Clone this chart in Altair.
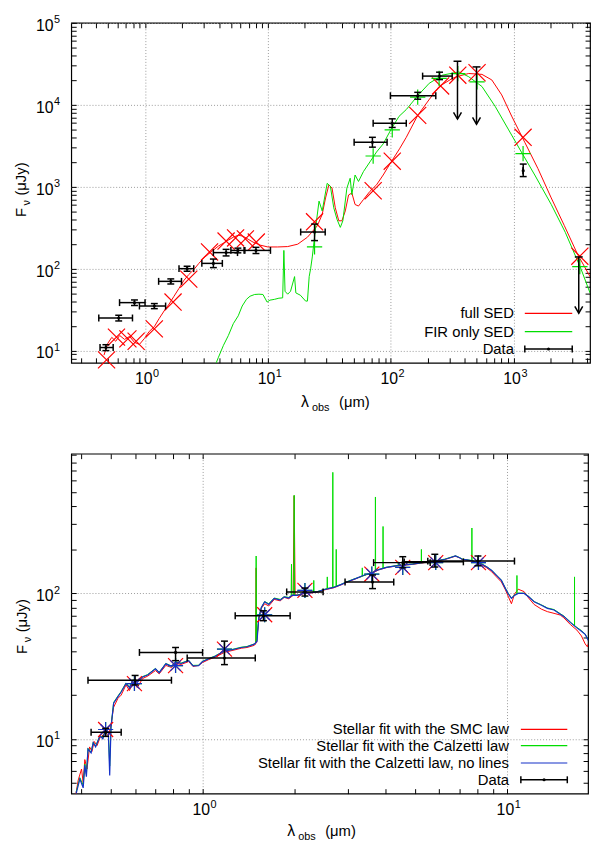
import altair as alt
import pandas as pd

RED = "#ff0000"
GREEN = "#00dd00"
BLUE = "#1530c8"
BLACK = "#000000"
GRID = "#9a9a9a"
FONT = "Liberation Sans"

# ---------------------------------------------------------------
# Top panel: full SED fit vs FIR-only fit
# ---------------------------------------------------------------
SED_X = [0.463, 0.498, 0.536, 0.577, 0.621, 0.681, 0.748, 0.82, 0.90, 0.99,
         1.08, 1.19, 1.30, 1.43, 1.57, 1.72, 1.89, 2.07, 2.27, 2.49,
         2.73, 3.0, 3.29, 3.61, 3.96, 4.35, 4.77, 5.23, 5.74, 6.29,
         6.9, 7.57, 8.63, 10.0, 12.0, 14.5, 17.5, 21.0, 25.3, 27.7,
         29.5, 31.4, 33.3, 35.4, 37.8, 40.1, 42.7, 45.4, 48.3, 51.3,
         54.7, 60, 67.8, 76.7, 86.9, 101, 118, 134, 166, 205,
         248, 318, 359, 432, 554, 666, 802, 966, 1235, 1580,
         2030, 2590, 3310, 4200]
SED_Y = [8.8, 12.3, 14.5, 13.0, 15.3, 13.7, 14.9, 12.6, 11.9, 14.1,
         17.1, 19.6, 24.5, 30.5, 37, 46, 57.5, 71.8, 84.7, 97,
         115, 135, 151, 169, 189, 205, 223, 242, 256, 249,
         229, 211, 194, 184, 184, 186, 199, 242, 334, 460,
         730, 1055, 962, 553, 384, 384, 506, 793, 838, 607,
         581, 697, 879, 1055, 1390, 2010, 2900, 4010, 7430, 11500,
         16700, 21000, 22400, 24100, 23500, 20100, 13200, 7280, 3490, 1670,
         730, 337, 152, 80]

FIR_X = [3.68, 3.96, 4.35, 4.77, 5.23, 5.74, 6.18, 6.69, 7.16, 7.81,
         8.46, 9.12, 9.86, 10.4, 11.3, 12.3, 13.2, 13.5, 13.8, 14.5,
         15.3, 16.5, 16.9, 18.4, 20.3, 21.0, 21.7, 22.3, 23.0, 24.5,
         26.1, 27.7, 30.4, 32.3, 34.4, 36.6, 38.9, 40.8, 44, 46.8,
         48.3, 51.3, 54.7, 60, 67.8, 76.7, 86.9, 101, 117, 134,
         166, 206, 264, 359, 432, 554, 708, 906, 1160, 1490,
         2030, 2640, 3530, 4200]
FIR_Y = [6.3, 8.3, 11.6, 15.3, 21.3, 26.6, 35, 42.2, 46.1, 48.4,
         48.8, 48.4, 39.1, 41.3, 42.2, 43.6, 44, 167, 53, 48.8,
         53, 80, 50.6, 47.4, 40.2, 40.2, 80, 100, 139, 319,
         667, 506, 1100, 1010, 553, 398, 319, 384, 962, 1270,
         800, 1390, 1160, 1530, 2010, 2650, 3330, 5050, 7230, 8750,
         12900, 18300, 23000, 25200, 22000, 16700, 9600, 5050, 2650, 1390,
         607, 278, 101, 50.6]

# model photometry
SED_MOD_X = [0.486, 0.585, 0.725, 0.846, 1.19, 1.69, 2.27, 3.35, 4.57, 5.46, 6.56,
             8.05, 24, 72, 103, 166, 255, 352, 505, 1197, 3470]
SED_MOD_Y = [7.7, 14.6, 13.9, 13.0, 18.4, 39.1, 74.5, 160, 217, 237, 231,
             211, 373, 893, 2050, 7430, 17000, 23000, 24600, 4010, 142]
FIR_MOD_X = [24, 72, 103, 166, 248, 352, 505, 1197, 3470]
FIR_MOD_Y = [184, 2370, 4940, 12400, 21000, 24000, 19000, 2530, 106]

# observed photometry
DATA_X = [0.48, 0.61, 0.82, 1.19, 1.62, 2.2, 3.6, 4.57, 5.7, 8.0, 24, 71, 103, 166, 250, 1200]
DATA_XLO = [0.43, 0.42, 0.62, 0.9, 1.29, 1.89, 2.9, 3.6, 5.0, 6.4, 18.5, 50.4, 72, 99.5, 182, 1200]
DATA_XHI = [0.55, 0.79, 1.0, 1.47, 1.98, 2.49, 4.26, 5.66, 6.5, 10.5, 29.3, 93.5, 134, 233, 317, 1200]
DATA_Y = [10.9, 25, 38.5, 35, 70, 100, 116, 157, 167, 167, 280, 3490, 5950, 12900, 22400, 1570]
DATA_YLO = [10.0, 23, 35.5, 32.5, 65, 93, 103, 143, 156, 153, 220, 3040, 5290, 11700, 20300, 1330]
DATA_YHI = [11.8, 27, 41.5, 37.5, 75, 107, 131, 172, 178, 182, 350, 4010, 6740, 14200, 25000, 1890]

# upper limits
UL_X = [350, 500, 3400]
UL_TOP = [34000, 29000, 139]
UL_END = [6700, 5800, 28.6]

# ---------------------------------------------------------------
# Bottom panel: stellar fits
# ---------------------------------------------------------------
SMC_X = [0.382, 0.39, 0.40, 0.405, 0.41, 0.417, 0.425, 0.433, 0.44, 0.45,
         0.46, 0.47, 0.48, 0.49, 0.50, 0.51, 0.527, 0.54, 0.56, 0.575,
         0.59, 0.61, 0.635, 0.66, 0.70, 0.72, 0.757, 0.79, 0.815, 0.85,
         0.90, 0.93, 0.97, 1.0, 1.045, 1.1, 1.185, 1.25, 1.34, 1.40,
         1.48, 1.495, 1.50, 1.505, 1.53, 1.56, 1.6, 1.65, 1.72, 1.8,
         1.855, 1.92, 1.985, 2.0, 2.015, 2.15, 2.25, 2.38, 2.5, 2.7,
         2.85, 2.98, 3.2, 3.37, 3.64, 3.8, 4.02, 4.32, 4.6, 4.9,
         5.2, 5.55, 5.9, 6.27, 6.5, 6.78, 7.0, 7.13, 7.4, 7.68,
         8.0, 8.29, 8.6, 8.92, 9.25, 9.6, 9.9, 10.1, 10.36, 10.6,
         10.9, 11.4, 11.8, 12.3, 13.0, 13.6, 14.3, 15.0, 15.4, 16.2,
         17.0, 17.6, 18.1, 18.4, 18.6]
SMC_Y = [4.0, 5.2, 6.2, 5.0, 7.2, 6.2, 8.8, 8.2, 9.6, 9.0,
         10.2, 10.6, 11.2, 10.4, 12.5, 16.5, 19, 20, 23.5, 21.5,
         24.5, 22.5, 26, 27, 29.5, 28, 32, 31, 33, 32.5,
         34, 31.5, 32, 33.5, 35, 36.5, 39.5, 40.5, 42, 42.5,
         44, 45, 150, 46, 66, 79, 85, 82, 91, 89,
         94, 92, 97, 470, 97, 99.5, 100.5, 102, 105.5, 109.5,
         114.5, 119.5, 126.5, 132.5, 139.5, 145.5, 150.5, 154.5, 156.5, 158.5,
         161.5, 164.5, 167.5, 171.5, 175.5, 180.5, 175.5, 171.5, 169.5, 167,
         162, 157, 150, 141, 130, 120, 106, 96, 85, 99,
         107, 103, 93, 84, 78, 75, 73, 71, 68, 61,
         56, 51, 45, 43, 46]

CAL_X = [0.384, 0.395, 0.405, 0.41, 0.415, 0.42, 0.43, 0.437, 0.445, 0.46,
         0.47, 0.48, 0.49, 0.495, 0.50, 0.51, 0.527, 0.54, 0.56, 0.575,
         0.59, 0.61, 0.635, 0.66, 0.70, 0.72, 0.757, 0.79, 0.815, 0.85,
         0.90, 0.93, 0.97, 1.0, 1.045, 1.1, 1.185, 1.25, 1.34, 1.40,
         1.48, 1.495, 1.50, 1.505, 1.53, 1.56, 1.6, 1.65, 1.72, 1.8,
         1.855, 1.92, 1.955, 1.96, 1.965, 1.995, 2.0, 2.006, 2.05, 2.15,
         2.25, 2.315, 2.32, 2.325, 2.38, 2.5, 2.565, 2.57, 2.575, 2.675,
         2.68, 2.685, 2.745, 2.75, 2.755, 2.85, 2.98, 3.2, 3.345, 3.35,
         3.355, 3.64, 3.695, 3.7, 3.705, 3.8, 3.915, 3.92, 3.925, 4.02,
         4.32, 4.395, 4.4, 4.405, 4.6, 4.9, 5.2, 5.235, 5.24, 5.245,
         5.55, 5.9, 6.27, 6.5, 6.78, 7.0, 7.13, 7.4, 7.675, 7.68,
         7.685, 8.0, 8.29, 8.6, 8.92, 9.25, 9.6, 9.9, 10.1, 10.36,
         10.6, 10.795, 10.8, 10.805, 10.9, 11.4, 11.8, 12.3, 13.0, 13.6,
         14.3, 15.0, 15.4, 16.2, 16.695, 16.7, 16.705, 17.0, 17.6, 18.1,
         18.6]
CAL_Y = [4.3, 5.4, 4.8, 6.7, 5.7, 8.6, 8.1, 9.5, 8.9, 10.6,
         10.1, 11.7, 11.1, 6.5, 12.1, 17.8, 19.7, 21.2, 24.2, 22.7,
         25.5, 24.7, 26.8, 27.7, 30.5, 28.7, 33.0, 31.7, 33.9, 33.2,
         34.7, 32.0, 32.1, 34.2, 35.6, 37.2, 40.5, 41.2, 42.7, 43.2,
         45.0, 46, 181, 47, 68, 80, 88, 85, 93, 91,
         95, 94, 96, 159, 96.5, 97.5, 474, 97.5, 97.5, 100.5,
         101.5, 102, 123, 102.5, 103, 106.5, 108, 130, 108.5, 110,
         681, 110.5, 112, 201, 112.5, 115.5, 120.5, 127.5, 131, 150,
         131.5, 140.5, 143, 461, 143.5, 146.5, 149, 289, 149.5, 151.5,
         155.5, 156, 165, 156.5, 157.5, 159.5, 162, 162.5, 201, 162.5,
         165.5, 168.5, 172.5, 176.5, 181.5, 176.5, 172.5, 170.5, 168.5, 282,
         168, 163.5, 159.5, 152.5, 144.5, 133.5, 123.5, 108.5, 100.5, 93,
         97.5, 100, 133, 100, 100.5, 100.5, 95.5, 88, 83.5, 79.5,
         77.5, 72.5, 70, 63.5, 60, 130, 60, 58.5, 55.5, 52.5,
         47.5]

NOL_X = [0.384, 0.395, 0.405, 0.41, 0.415, 0.42, 0.43, 0.437, 0.445, 0.46,
         0.47, 0.48, 0.49, 0.495, 0.50, 0.51, 0.527, 0.54, 0.56, 0.575,
         0.59, 0.61, 0.635, 0.66, 0.70, 0.72, 0.757, 0.79, 0.815, 0.85,
         0.90, 0.93, 0.97, 1.0, 1.045, 1.1, 1.185, 1.25, 1.34, 1.40,
         1.48, 1.51, 1.53, 1.56, 1.6, 1.65, 1.72, 1.8, 1.855, 1.92,
         1.97, 2.05, 2.15, 2.25, 2.38, 2.5, 2.7, 2.85, 2.98, 3.2,
         3.37, 3.64, 3.8, 4.02, 4.32, 4.6, 4.9, 5.2, 5.55, 5.9,
         6.27, 6.5, 6.78, 7.0, 7.13, 7.4, 7.68, 8.0, 8.29, 8.6,
         8.92, 9.25, 9.6, 9.9, 10.1, 10.36, 10.6, 10.9, 11.4, 11.8,
         12.3, 13.0, 13.6, 14.3, 15.0, 15.4, 16.2, 17.0, 17.6, 18.1,
         18.6]
NOL_Y = [4.2, 5.3, 4.6, 6.6, 5.5, 8.5, 8.0, 9.4, 8.8, 10.5,
         10.0, 11.6, 11.0, 5.6, 12.0, 17.6, 19.5, 21, 24, 22.5,
         25.3, 24.5, 26.6, 27.5, 30.3, 28.5, 32.8, 31.5, 33.7, 33.0,
         34.5, 31.8, 31.9, 34.0, 35.4, 37, 40.3, 41, 42.5, 43,
         44.8, 47, 68, 80, 87.7, 84, 92.5, 90, 94.8, 93,
         97.4, 97, 100, 101, 102.5, 106, 110, 115, 120, 127,
         133, 140, 146, 151, 155, 157, 159, 162, 165, 168,
         172, 176, 181, 176, 172, 170, 168, 163, 159, 152,
         144, 133, 123, 108, 100, 92.5, 97, 100, 100, 95,
         87.7, 83, 79, 77, 72, 69.5, 63, 58, 55, 52.3,
         47]

STAR_MOD_X = [0.48, 0.597, 0.815, 1.18, 1.6, 2.17, 3.6, 4.55, 5.84, 8.07]
STAR_MOD_Y = [11.6, 24.0, 31.9, 41.4, 71.4, 105, 136, 151, 163, 163]

OPT_X = [0.48, 0.6, 0.815, 1.18, 1.585, 2.17, 3.62, 4.55, 5.8, 8.04]
OPT_XLO = [0.43, 0.42, 0.62, 0.89, 1.28, 1.89, 2.94, 3.65, 4.6, 5.5]
OPT_XHI = [0.54, 0.79, 1.0, 1.49, 1.94, 2.49, 4.25, 5.6, 7.2, 10.6]
OPT_Y = [11.1, 25.3, 39.3, 36, 70.3, 102.5, 119.8, 163, 165, 167]
OPT_YLO = [10.4, 23.5, 34.5, 32.4, 65, 96, 108, 150, 152, 155]
OPT_YHI = [11.8, 27.3, 42.5, 47, 76, 109, 134, 179, 186, 181]

# decade tick labels (10 with a raised exponent)
TOP_XLAB, TOP_XEXP = [1, 10, 100, 1000], ["0", "1", "2", "3"]
TOP_YLAB, TOP_YEXP = [10, 100, 1000, 10000, 100000], ["1", "2", "3", "4", "5"]
BOT_XLAB, BOT_XEXP = [1, 10], ["0", "1"]
BOT_YLAB, BOT_YEXP = [10, 100], ["1", "2"]

# axis ranges (both frames share the same left edge in the stacked layout)
TOP_XDOM, TOP_YDOM = [0.2506, 4200], [7.1, 1e5]
BOT_XDOM, BOT_YDOM = [0.370, 18.5], [4.2, 915]


def log_ticks(lo, hi, e0, e1):
    return [round(m * 10.0 ** e, 6) for e in range(e0, e1 + 1) for m in range(1, 10)
            if lo <= round(m * 10.0 ** e, 6) <= hi]


TOP_X_TICKS = log_ticks(*TOP_XDOM, -1, 3)
TOP_Y_TICKS = log_ticks(*TOP_YDOM, 0, 5)
BOT_X_TICKS = log_ticks(*BOT_XDOM, -1, 1)
BOT_Y_TICKS = log_ticks(*BOT_YDOM, 0, 2)

# gnuplot-like point types as unit svg paths
CROSS_X = "M-1,-1L1,1M-1,1L1,-1"
PLUS = "M-1,0L1,0M0,-1L0,1"
STAR = "M-1,0L1,0M0,-1L0,1M-0.7,-0.7L0.7,0.7M-0.7,0.7L0.7,-0.7"
ARROW = "M-1,-1.7L0,0L1,-1.7"

DECADE = "abs(log(datum.value)/LN10 - round(log(datum.value)/LN10)) < 0.001"

ONE = pd.DataFrame({"k": [0]})


def frame_axis(values, orient, main):
    # ticks drawn inward: axis pulled inside by its own tick length
    return alt.Axis(
        orient=orient, values=values, title=None, domain=False, labels=False,
        offset=-5, tickSize=5, tickColor=BLACK, tickWidth=1,
        minExtent=0, maxExtent=0,
        grid=main, gridColor=GRID, gridDash=[1, 2], gridWidth=1,
        gridOpacity={"condition": {"test": DECADE, "value": 1}, "value": 0},
    )


def curve(xv, yv, color, xs, ys, width=1.0, xaxis=None, yaxis=None):
    src = pd.DataFrame({"x": xv, "y": yv})
    return alt.Chart(src).mark_line(color=color, strokeWidth=width, clip=True).encode(
        x=alt.X("x:Q", scale=xs, axis=xaxis),
        y=alt.Y("y:Q", scale=ys, axis=yaxis),
    )


def markers(xv, yv, shape, color, size, xs, ys):
    src = pd.DataFrame({"x": xv, "y": yv})
    return alt.Chart(src).mark_point(
        shape=shape, filled=False, color=color, size=size, strokeWidth=1.2, opacity=1
    ).encode(x=alt.X("x:Q", scale=xs, axis=None), y=alt.Y("y:Q", scale=ys, axis=None))


def error_bars(xv, xlo, xhi, yv, ylo, yhi, xs, ys):
    base = alt.Chart(pd.DataFrame(dict(x=xv, xlo=xlo, xhi=xhi, y=yv, ylo=ylo, yhi=yhi)))
    X = lambda f: alt.X(f"{f}:Q", scale=xs, axis=None)
    Y = lambda f: alt.Y(f"{f}:Q", scale=ys, axis=None)
    cap = dict(color=BLACK, size=7, thickness=1.5, opacity=1)
    return [
        base.mark_rule(color=BLACK, strokeWidth=1.5).encode(x=X("xlo"), x2=alt.X2("xhi"), y=Y("y")),
        base.mark_rule(color=BLACK, strokeWidth=1.5).encode(x=X("x"), y=Y("ylo"), y2=alt.Y2("yhi")),
        base.mark_tick(orient="vertical", **cap).encode(x=X("xlo"), y=Y("y")),
        base.mark_tick(orient="vertical", **cap).encode(x=X("xhi"), y=Y("y")),
        base.mark_tick(orient="horizontal", **cap).encode(x=X("x"), y=Y("ylo")),
        base.mark_tick(orient="horizontal", **cap).encode(x=X("x"), y=Y("yhi")),
        base.mark_point(filled=True, color=BLACK, size=10, opacity=1).encode(x=X("x"), y=Y("y")),
    ]


def upper_limits(xv, top, end, xs, ys):
    base = alt.Chart(pd.DataFrame(dict(x=xv, top=top, end=end)))
    X = alt.X("x:Q", scale=xs, axis=None)
    return [
        base.mark_rule(color=BLACK, strokeWidth=1.5).encode(
            x=X, y=alt.Y("top:Q", scale=ys, axis=None), y2=alt.Y2("end")),
        base.mark_tick(orient="horizontal", color=BLACK, size=8, thickness=1.5, opacity=1).encode(
            x=X, y=alt.Y("top:Q", scale=ys, axis=None)),
        base.mark_point(shape=ARROW, filled=False, color=BLACK, size=64, strokeWidth=1.5,
                        opacity=1).encode(x=X, y=alt.Y("end:Q", scale=ys, axis=None)),
    ]


def x_tick_labels(vals, exps, xs, height):
    base = alt.Chart(pd.DataFrame({"v": vals, "e": exps}))
    X = alt.X("v:Q", scale=xs, axis=None)
    return [
        base.mark_text(text="10", font=FONT, fontSize=16, align="right", dx=7.5,
                       baseline="middle", color=BLACK).encode(x=X, y=alt.value(height + 16.5)),
        base.mark_text(font=FONT, fontSize=11, align="left", dx=8,
                       baseline="middle", color=BLACK).encode(
            x=X, y=alt.value(height + 11.5), text="e:N"),
    ]


def y_tick_labels(vals, exps, ys):
    base = alt.Chart(pd.DataFrame({"v": vals, "e": exps}))
    Y = alt.Y("v:Q", scale=ys, axis=None)
    return [
        base.mark_text(text="10", font=FONT, fontSize=16, align="right", dy=3,
                       baseline="middle", color=BLACK).encode(x=alt.value(-18), y=Y),
        base.mark_text(font=FONT, fontSize=11, align="left", dy=-2.5,
                       baseline="middle", color=BLACK).encode(x=alt.value(-17.5), y=Y, text="e:N"),
    ]


def label(text, x, y, size=16, angle=0, align="center", color=BLACK):
    return alt.Chart(ONE).mark_text(
        text=text, font=FONT, fontSize=size, angle=angle, align=align,
        baseline="middle", color=color,
    ).encode(x=alt.value(x), y=alt.value(y))


def legend_entry(text, color, tx, x1, x2, y, data=False):
    out = [
        label(text, tx, y, 15, align="right"),
        alt.Chart(ONE).mark_rule(color=color, strokeWidth=1.5 if data else 1.2).encode(
            x=alt.value(x1), x2=alt.value(x2), y=alt.value(y)),
    ]
    if data:
        for xc in (x1, x2):
            out.append(alt.Chart(ONE).mark_rule(color=BLACK, strokeWidth=1.5).encode(
                x=alt.value(xc), y=alt.value(y - 3.5), y2=alt.value(y + 3.5)))
        out.append(alt.Chart(ONE).mark_point(filled=True, color=BLACK, size=10, opacity=1).encode(
            x=alt.value((x1 + x2) / 2), y=alt.value(y)))
    return out


def axis_titles(ytx, yty, xtx, xty):
    # F_nu (uJy) rotated, lambda_obs (um) with real subscripts
    return [
        label("(\u03bcJy)", ytx, yty, 15, angle=270),
        label("\u03bd", ytx + 6, yty + 24, 11, angle=270),
        label("F", ytx, yty + 34, 15, angle=270),
        label("\u03bb", xtx, xty, 16),
        label("obs", xtx + 16, xty + 6, 11),
        label("(\u03bcm)", xtx + 50, xty, 15),
    ]


# ---------------- top chart ----------------
xs_t = alt.Scale(type="log", domain=TOP_XDOM, nice=False)
ys_t = alt.Scale(type="log", domain=TOP_YDOM, nice=False)
H_TOP = 344

top_layers = [
    curve(SED_X, SED_Y, RED, xs_t, ys_t,
          xaxis=frame_axis(TOP_X_TICKS, "bottom", True),
          yaxis=frame_axis(TOP_Y_TICKS, "left", True)),
    curve(FIR_X, FIR_Y, GREEN, xs_t, ys_t,
          xaxis=frame_axis(TOP_X_TICKS, "top", False),
          yaxis=frame_axis(TOP_Y_TICKS, "right", False)),
    markers(SED_MOD_X, SED_MOD_Y, CROSS_X, RED, 300, xs_t, ys_t),
    markers(FIR_MOD_X, FIR_MOD_Y, PLUS, GREEN, 240, xs_t, ys_t),
    *error_bars(DATA_X, DATA_XLO, DATA_XHI, DATA_Y, DATA_YLO, DATA_YHI, xs_t, ys_t),
    *upper_limits(UL_X, UL_TOP, UL_END, xs_t, ys_t),
    *x_tick_labels(TOP_XLAB, TOP_XEXP, xs_t, H_TOP),
    *y_tick_labels(TOP_YLAB, TOP_YEXP, ys_t),
    *legend_entry("full SED", RED, 448, 459, 507, 294),
    *legend_entry("FIR only SED", GREEN, 448, 459, 507, 312.5),
    *legend_entry("Data", BLACK, 448, 459, 507, 330, data=True),
    *axis_titles(-51, 158, 236.5, 384),
    label(".", -61, 170, 12, color="white"),
]
top = alt.layer(*top_layers).properties(width=525, height=H_TOP)

# ---------------- bottom chart ----------------
xs_b = alt.Scale(type="log", domain=BOT_XDOM, nice=False)
ys_b = alt.Scale(type="log", domain=BOT_YDOM, nice=False)
H_BOT = 344

bottom_layers = [
    curve(SMC_X, SMC_Y, RED, xs_b, ys_b,
          xaxis=frame_axis(BOT_X_TICKS, "bottom", True),
          yaxis=frame_axis(BOT_Y_TICKS, "left", True)),
    curve(CAL_X, CAL_Y, GREEN, xs_b, ys_b,
          xaxis=frame_axis(BOT_X_TICKS, "top", False),
          yaxis=frame_axis(BOT_Y_TICKS, "right", False)),
    curve(NOL_X, NOL_Y, BLUE, xs_b, ys_b, width=1.2),
    markers(STAR_MOD_X, STAR_MOD_Y, CROSS_X, RED, 230, xs_b, ys_b),
    markers(STAR_MOD_X, STAR_MOD_Y, PLUS, GREEN, 230, xs_b, ys_b),
    markers(STAR_MOD_X, STAR_MOD_Y, STAR, BLUE, 230, xs_b, ys_b),
    *error_bars(OPT_X, OPT_XLO, OPT_XHI, OPT_Y, OPT_YLO, OPT_YHI, xs_b, ys_b),
    *x_tick_labels(BOT_XLAB, BOT_XEXP, xs_b, H_BOT),
    *y_tick_labels(BOT_YLAB, BOT_YEXP, ys_b),
    *legend_entry("Stellar fit with the SMC law", RED, 443, 455, 502, 279),
    *legend_entry("Stellar fit with the Calzetti law", GREEN, 443, 455, 502, 295.5),
    *legend_entry("Stellar fit with the Calzetti law, no lines", BLUE, 443, 455, 502, 313),
    *legend_entry("Data", BLACK, 443, 455, 502, 330, data=True),
    *axis_titles(-50, 164, 222.5, 382),
]
bottom = alt.layer(*bottom_layers).properties(width=523, height=H_BOT)

chart = alt.vconcat(top, bottom, spacing=38).properties(
    padding=0
).configure_view(stroke=BLACK, strokeWidth=1.2)

chart.save("out.html", embed_options={"renderer": "svg", "actions": False})
